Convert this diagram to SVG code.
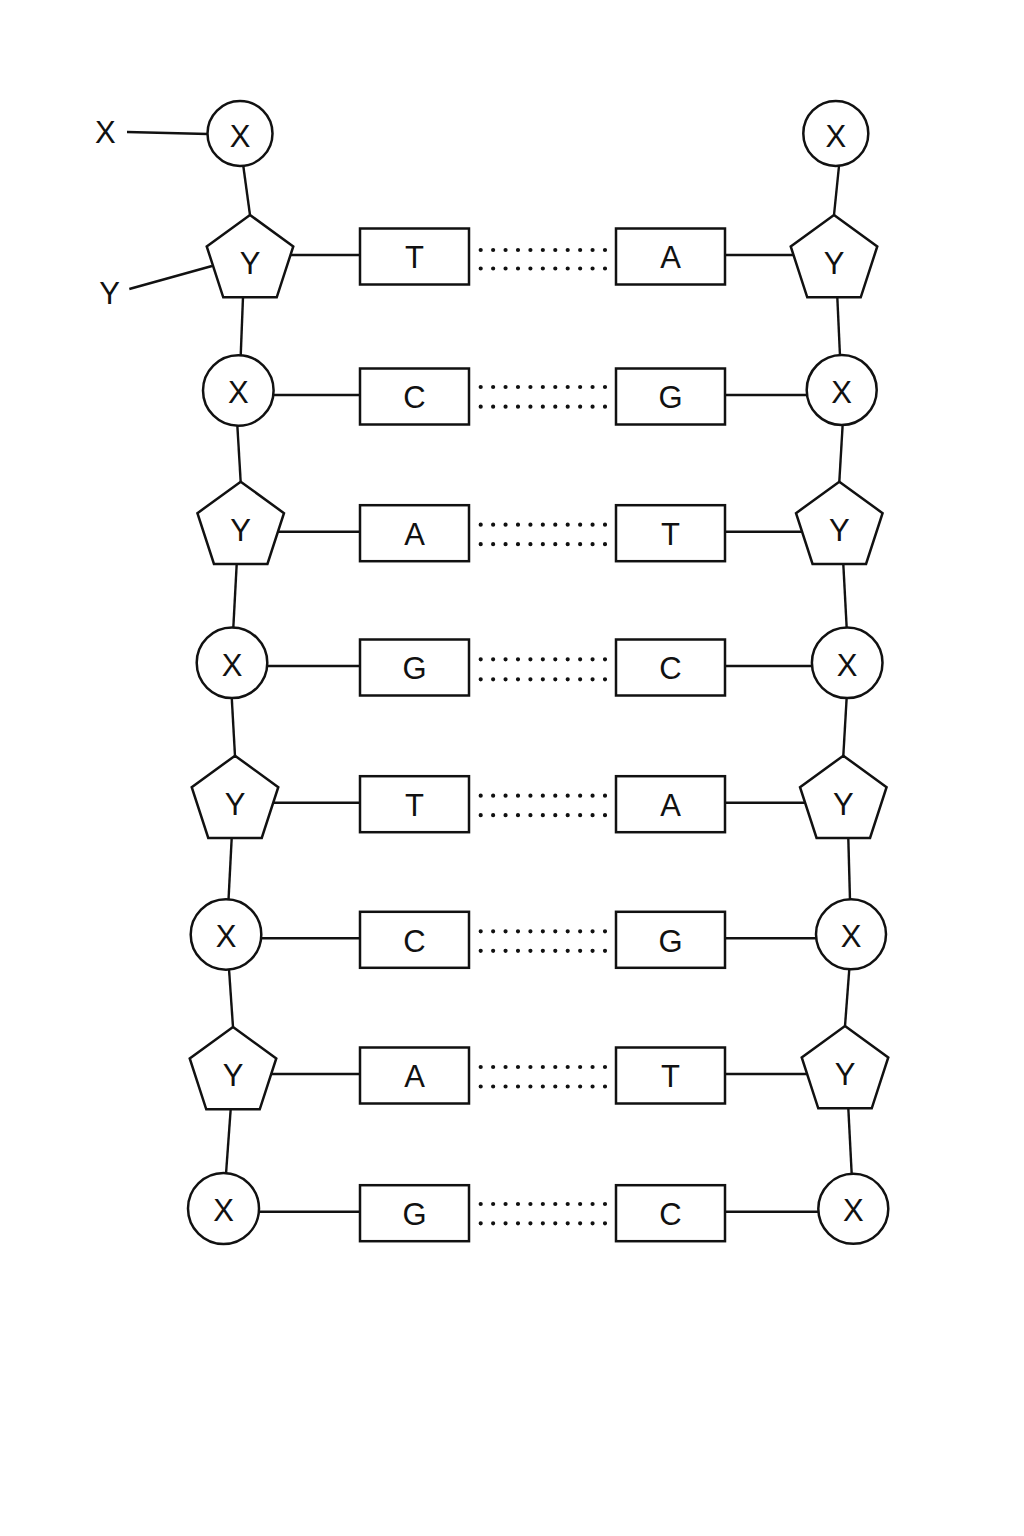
<svg xmlns="http://www.w3.org/2000/svg" width="1024" height="1536" viewBox="0 0 1024 1536">
<style>
.ln{stroke:#111;stroke-width:2.4;fill:none;stroke-linecap:butt}
.dot{stroke:#111;stroke-width:4.2;stroke-linecap:round;stroke-dasharray:0 12.43;fill:none}
.sh{fill:#fff;stroke:#111;stroke-width:2.5}
.t{font-family:"Liberation Sans",Arial,Helvetica,sans-serif;font-size:31px;fill:#111;text-anchor:middle}
</style>
<rect width="1024" height="1536" fill="#fff"/>
<g id="connectors">
<line class="ln" x1="127" y1="132" x2="208" y2="134"/>
<line class="ln" x1="129.3" y1="289" x2="212" y2="266"/>
<line class="ln" x1="243.3" y1="166" x2="250" y2="215"/>
<line class="ln" x1="243" y1="297" x2="240.7" y2="356"/>
<line class="ln" x1="237.3" y1="425" x2="240.7" y2="482"/>
<line class="ln" x1="236.7" y1="564" x2="233.3" y2="628"/>
<line class="ln" x1="231.7" y1="697" x2="235" y2="756"/>
<line class="ln" x1="231.7" y1="838" x2="228.5" y2="900"/>
<line class="ln" x1="229" y1="969" x2="233" y2="1027"/>
<line class="ln" x1="230.7" y1="1109" x2="226" y2="1174"/>
<line class="ln" x1="839" y1="166" x2="834" y2="215"/>
<line class="ln" x1="837.3" y1="297" x2="840" y2="356"/>
<line class="ln" x1="842.7" y1="424" x2="839.3" y2="482"/>
<line class="ln" x1="843.3" y1="564" x2="846.7" y2="628"/>
<line class="ln" x1="846.7" y1="697" x2="843.3" y2="756"/>
<line class="ln" x1="848.3" y1="838" x2="850" y2="900"/>
<line class="ln" x1="849.3" y1="969" x2="845" y2="1026"/>
<line class="ln" x1="848.3" y1="1108" x2="851.7" y2="1174"/>
<line class="ln" x1="250" y1="255" x2="360" y2="255"/>
<line class="ln" x1="238" y1="395" x2="360" y2="395"/>
<line class="ln" x1="240" y1="531.7" x2="360" y2="531.7"/>
<line class="ln" x1="232" y1="666" x2="360" y2="666"/>
<line class="ln" x1="235" y1="802.7" x2="360" y2="802.7"/>
<line class="ln" x1="226" y1="938.3" x2="360" y2="938.3"/>
<line class="ln" x1="233" y1="1074" x2="360" y2="1074"/>
<line class="ln" x1="224" y1="1211.7" x2="360" y2="1211.7"/>
<line class="ln" x1="725" y1="255" x2="834" y2="255"/>
<line class="ln" x1="725" y1="395" x2="842" y2="395"/>
<line class="ln" x1="725" y1="531.7" x2="839" y2="531.7"/>
<line class="ln" x1="725" y1="666" x2="847" y2="666"/>
<line class="ln" x1="725" y1="802.7" x2="843" y2="802.7"/>
<line class="ln" x1="725" y1="938.3" x2="851" y2="938.3"/>
<line class="ln" x1="725" y1="1074" x2="845" y2="1074"/>
<line class="ln" x1="725" y1="1211.7" x2="853" y2="1211.7"/>
<line class="dot" x1="480.7" y1="250" x2="606" y2="250"/>
<line class="dot" x1="480.7" y1="268.5" x2="606" y2="268.5"/>
<line class="dot" x1="480.7" y1="387" x2="606" y2="387"/>
<line class="dot" x1="480.7" y1="406.7" x2="606" y2="406.7"/>
<line class="dot" x1="480.7" y1="524.7" x2="606" y2="524.7"/>
<line class="dot" x1="480.7" y1="544.2" x2="606" y2="544.2"/>
<line class="dot" x1="480.7" y1="659.3" x2="606" y2="659.3"/>
<line class="dot" x1="480.7" y1="679.3" x2="606" y2="679.3"/>
<line class="dot" x1="480.7" y1="795.7" x2="606" y2="795.7"/>
<line class="dot" x1="480.7" y1="815.2" x2="606" y2="815.2"/>
<line class="dot" x1="480.7" y1="931.3" x2="606" y2="931.3"/>
<line class="dot" x1="480.7" y1="950.8" x2="606" y2="950.8"/>
<line class="dot" x1="480.7" y1="1067" x2="606" y2="1067"/>
<line class="dot" x1="480.7" y1="1086.5" x2="606" y2="1086.5"/>
<line class="dot" x1="480.7" y1="1204" x2="606" y2="1204"/>
<line class="dot" x1="480.7" y1="1223.3" x2="606" y2="1223.3"/>
</g>
<g id="labels">
<text class="t" x="105.3" y="143">X</text>
<text class="t" x="109.5" y="303.5">Y</text>
</g>
<g id="X0L"><circle class="sh" cx="240" cy="133.5" r="32.5"/><text class="t" x="240" y="147">X</text></g>
<g id="Y0L"><polygon class="sh" points="250,215 293.27,246.44 276.74,297.31 223.26,297.31 206.73,246.44"/><text class="t" x="250" y="274">Y</text></g>
<g id="X1L"><circle class="sh" cx="238.3" cy="390.5" r="35.3"/><text class="t" x="238.3" y="403">X</text></g>
<g id="Y1L"><polygon class="sh" points="240.7,481.7 283.97,513.14 267.44,564.01 213.96,564.01 197.43,513.14"/><text class="t" x="240.7" y="541">Y</text></g>
<g id="X2L"><circle class="sh" cx="232" cy="662.8" r="35.3"/><text class="t" x="232" y="675.5">X</text></g>
<g id="Y2L"><polygon class="sh" points="235,755.7 278.27,787.14 261.74,838.01 208.26,838.01 191.73,787.14"/><text class="t" x="235" y="815">Y</text></g>
<g id="X3L"><circle class="sh" cx="226" cy="934.5" r="35.3"/><text class="t" x="226" y="947">X</text></g>
<g id="Y3L"><polygon class="sh" points="233,1027 276.27,1058.44 259.74,1109.31 206.26,1109.31 189.73,1058.44"/><text class="t" x="233" y="1086">Y</text></g>
<g id="X4L"><circle class="sh" cx="223.5" cy="1208.5" r="35.5"/><text class="t" x="223.5" y="1221">X</text></g>
<g id="X0R"><circle class="sh" cx="835.8" cy="133.4" r="32.5"/><text class="t" x="835.8" y="147">X</text></g>
<g id="Y0R"><polygon class="sh" points="834,215 877.27,246.44 860.74,297.31 807.26,297.31 790.73,246.44"/><text class="t" x="834" y="274">Y</text></g>
<g id="X1R"><circle class="sh" cx="841.7" cy="390" r="35"/><text class="t" x="841.7" y="403">X</text></g>
<g id="Y1R"><polygon class="sh" points="839.3,481.7 882.57,513.14 866.04,564.01 812.56,564.01 796.03,513.14"/><text class="t" x="839.3" y="541">Y</text></g>
<g id="X2R"><circle class="sh" cx="847.2" cy="662.8" r="35.3"/><text class="t" x="847.2" y="675.5">X</text></g>
<g id="Y2R"><polygon class="sh" points="843.3,755.7 886.57,787.14 870.04,838.01 816.56,838.01 800.03,787.14"/><text class="t" x="843.3" y="815">Y</text></g>
<g id="X3R"><circle class="sh" cx="851" cy="934.3" r="35"/><text class="t" x="851" y="947">X</text></g>
<g id="Y3R"><polygon class="sh" points="845,1026 888.27,1057.44 871.74,1108.31 818.26,1108.31 801.73,1057.44"/><text class="t" x="845" y="1085">Y</text></g>
<g id="X4R"><circle class="sh" cx="853.3" cy="1208.8" r="35"/><text class="t" x="853.3" y="1221">X</text></g>
<g id="B0L"><rect class="sh" x="360" y="228.5" width="109" height="56"/><text class="t" x="414.5" y="268">T</text></g>
<g id="B1L"><rect class="sh" x="360" y="368.5" width="109" height="56"/><text class="t" x="414.5" y="408">C</text></g>
<g id="B2L"><rect class="sh" x="360" y="505.2" width="109" height="56"/><text class="t" x="414.5" y="545">A</text></g>
<g id="B3L"><rect class="sh" x="360" y="639.5" width="109" height="56"/><text class="t" x="414.5" y="679">G</text></g>
<g id="B4L"><rect class="sh" x="360" y="776.2" width="109" height="56"/><text class="t" x="414.5" y="816">T</text></g>
<g id="B5L"><rect class="sh" x="360" y="911.8" width="109" height="56"/><text class="t" x="414.5" y="951.5">C</text></g>
<g id="B6L"><rect class="sh" x="360" y="1047.5" width="109" height="56"/><text class="t" x="414.5" y="1087">A</text></g>
<g id="B7L"><rect class="sh" x="360" y="1185.2" width="109" height="56"/><text class="t" x="414.5" y="1224.5">G</text></g>
<g id="B0R"><rect class="sh" x="616" y="228.5" width="109" height="56"/><text class="t" x="670.5" y="268">A</text></g>
<g id="B1R"><rect class="sh" x="616" y="368.5" width="109" height="56"/><text class="t" x="670.5" y="408">G</text></g>
<g id="B2R"><rect class="sh" x="616" y="505.2" width="109" height="56"/><text class="t" x="670.5" y="545">T</text></g>
<g id="B3R"><rect class="sh" x="616" y="639.5" width="109" height="56"/><text class="t" x="670.5" y="679">C</text></g>
<g id="B4R"><rect class="sh" x="616" y="776.2" width="109" height="56"/><text class="t" x="670.5" y="816">A</text></g>
<g id="B5R"><rect class="sh" x="616" y="911.8" width="109" height="56"/><text class="t" x="670.5" y="951.5">G</text></g>
<g id="B6R"><rect class="sh" x="616" y="1047.5" width="109" height="56"/><text class="t" x="670.5" y="1087">T</text></g>
<g id="B7R"><rect class="sh" x="616" y="1185.2" width="109" height="56"/><text class="t" x="670.5" y="1224.5">C</text></g>
</svg>
